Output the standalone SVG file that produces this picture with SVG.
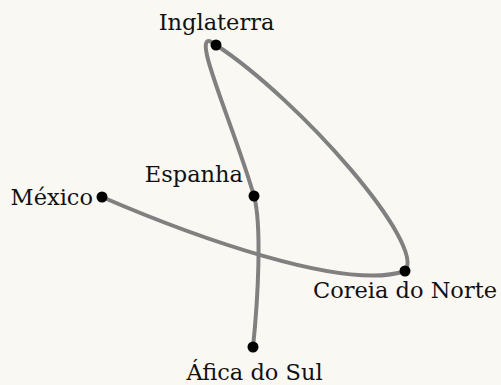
<svg xmlns="http://www.w3.org/2000/svg" width="501" height="385" viewBox="0 0 501 385">
<style>
.lbl{font-family:"DejaVu Serif","Liberation Serif",serif;font-size:22.5px;fill:#111}
.dot{fill:#000}
.edge{fill:none;stroke:#808080;stroke-width:4;stroke-linecap:round;stroke-linejoin:round}
</style>
<rect width="501" height="385" fill="#FAF8F3"/>
<g id="connectors">
<path class="edge" d="M102,197 C190,235 345,292 405,271 C427,245 300,100 216,45 C185,20 232,120 254,196 C262,225 258,300 253,347"/>
</g>
<g id="mexico"><circle class="dot" cx="102" cy="197" r="5.5"/><text class="lbl" x="93" y="205" text-anchor="end">México</text></g>
<g id="coreia"><circle class="dot" cx="405" cy="271" r="5.5"/><text class="lbl" x="497" y="298" text-anchor="end">Coreia do Norte</text></g>
<g id="inglaterra"><circle class="dot" cx="216" cy="45" r="5.5"/><text class="lbl" x="216.5" y="30" text-anchor="middle">Inglaterra</text></g>
<g id="espanha"><circle class="dot" cx="254" cy="196" r="5.5"/><text class="lbl" x="243" y="182" text-anchor="end">Espanha</text></g>
<g id="africa"><circle class="dot" cx="253" cy="347" r="5.5"/><text class="lbl" x="254.5" y="380" text-anchor="middle">Áfica do Sul</text></g>
</svg>
